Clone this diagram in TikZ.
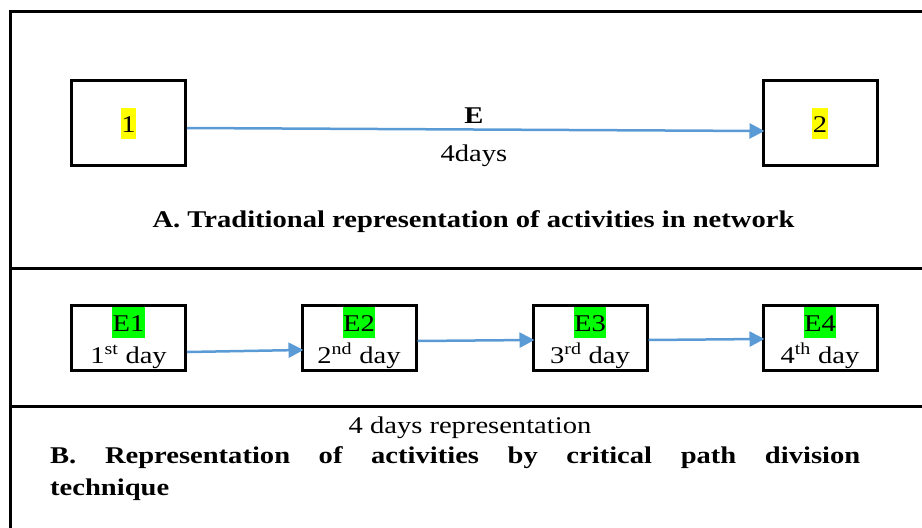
\documentclass[tikz,border=0pt]{standalone}
\usepackage{fontspec}
\setmainfont{Liberation Serif}[FakeStretch=1.19]
\usetikzlibrary{arrows.meta}
\definecolor{arrowBlue}{HTML}{5B9BD5}
\definecolor{markYellow}{HTML}{FFFF00}
\definecolor{markGreen}{HTML}{00FF00}
\newcommand{\markText}[2]{%%
  %% Text on a highlight as high as the line.
  {\setlength{\fboxsep}{0pt}\colorbox{#1}{\kern0.5pt\rule[-6pt]{0pt}{31pt}#2\kern0.5pt}}%%
}
\newcommand{\dayBox}[4]{%%
  %% One day of the divided activity.
  \node[dayStyle] (#1) at (#2,\rowB) {\markText{markGreen}{#3}\\#4~day};
}

\begin{document}
\begin{tikzpicture}[%%
  x=1pt,y=-1pt,%%
  font=\fontsize{24}{32}\selectfont,%%
  frameStyle/.style={line width=3pt},%%
  boxStyle/.style={draw,line width=3pt,rectangle,minimum width=114pt,minimum height=85pt,inner sep=0pt},%%
  dayStyle/.style={boxStyle,minimum height=65pt,align=center},%%
  arrowStyle/.style={arrowBlue,line width=2.5pt,-{Triangle[length=15pt,width=15pt]},shorten >=-3pt},%%
  labelStyle/.style={anchor=base,inner sep=0pt}%%
]
%%
%%
\pgfmathsetmacro{\rowA}{123}
\pgfmathsetmacro{\rowB}{338}
\useasboundingbox (0,0) rectangle (922,528);
\clip (0,0) rectangle (922,528);
%% The frame and its dividers.
\draw[frameStyle] (10,540) -- (10,11) -- (930,11);
\draw[frameStyle] (10,268) -- (930,268);
\draw[frameStyle] (10,406) -- (930,406);
%%
%%
%% A. One activity between two events.
\node[boxStyle] (box1) at (128.5,\rowA) {\markText{markYellow}{1}};
\node[boxStyle] (box2) at (820,\rowA) {\markText{markYellow}{2}};
\draw[arrowStyle] ([yshift=-5pt]box1.east) -- ([yshift=-8pt]box2.west);
\node[labelStyle] (actName) at (474,123) {\bfseries E};
\node[labelStyle] (actTime) at (474,161) {4days};
\node[labelStyle] (captionA) at (473.5,227) {\bfseries A. Traditional representation of activities in network};
%%
%%
%% B. The same activity divided into days.
\dayBox{day1}{128.5}{E1}{1\textsuperscript{st}}
\dayBox{day2}{359}{E2}{2\textsuperscript{nd}}
\dayBox{day3}{590}{E3}{3\textsuperscript{rd}}
\dayBox{day4}{820}{E4}{4\textsuperscript{th}}
\draw[arrowStyle] ([yshift=-14pt]day1.east) -- ([yshift=-12pt]day2.west);
\draw[arrowStyle] ([yshift=-3pt]day2.east) -- ([yshift=-2pt]day3.west);
\draw[arrowStyle] ([yshift=-2pt]day3.east) -- ([yshift=-1pt]day4.west);
\node[labelStyle] (daysNote) at (470,433) {4 days representation};
\node[anchor=north west,inner sep=0pt,text width=810pt,align=justify] (captionB) at (50,446)
  {\noindent\bfseries B. Representation of activities by critical path division\linebreak technique};
\end{tikzpicture}
\end{document}
